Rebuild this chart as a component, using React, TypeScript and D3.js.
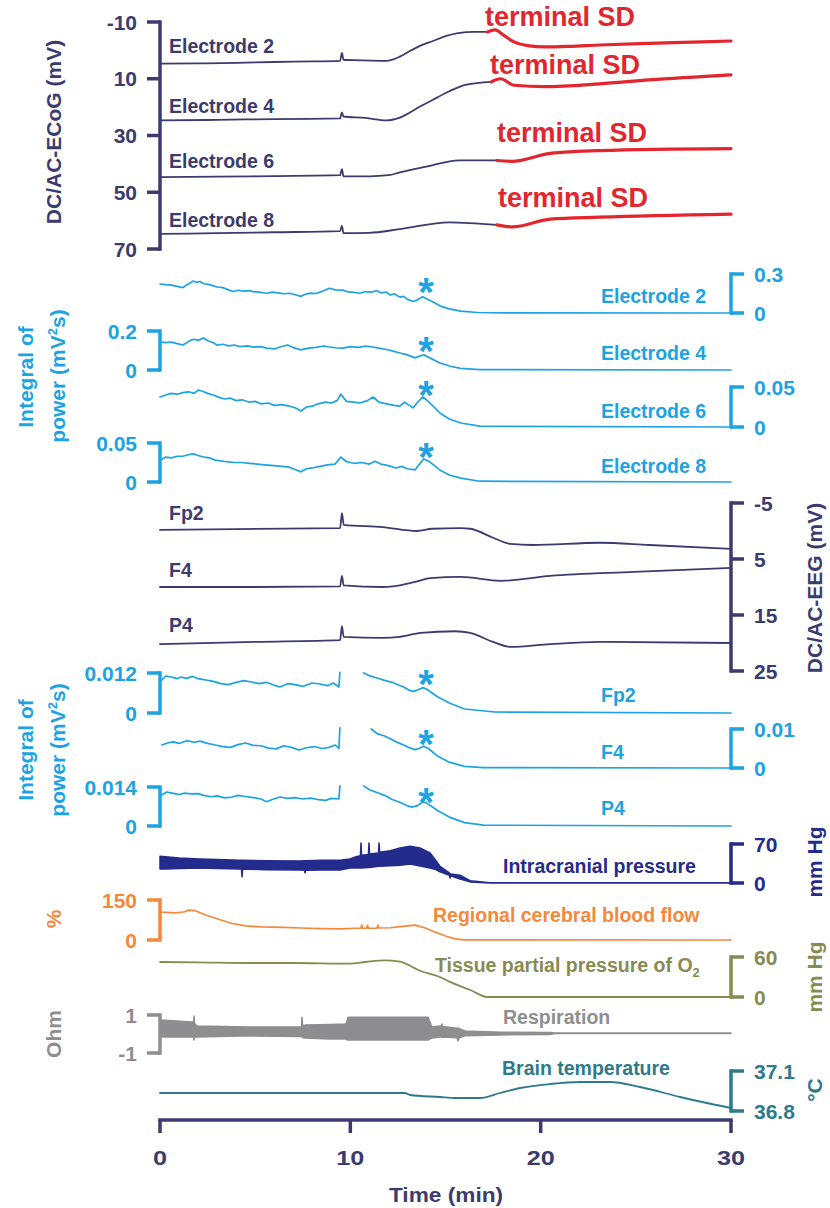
import React from "react";
import * as d3 from "d3";

type P = [number, number];
const FONT = "'Liberation Sans', Arial, Helvetica, sans-serif";

// ---------- colours ----------
const NAVY = "#3c3b6e";
const RED = "#e3262d";
const BLUE = "#1ca3e3";
const ICPBLUE = "#232b8c";
const ORANGE = "#f5883a";
const OLIVE = "#878b50";
const GREY = "#8e8e91";
const TEAL = "#2d7a8c";

// ---------- tick labels ----------
const timeTicks = [0, 10, 20, 30];
const ecogTicks = [-10, 10, 30, 50, 70];
const eegTicks = [-5, 5, 15, 25];
const e2pTicks = [0, 0.3];
const e4pTicks = [0, 0.2];
const e6pTicks = [0, 0.05];
const e8pTicks = [0, 0.05];
const fp2pTicks = [0, 0.012];
const f4pTicks = [0, 0.01];
const p4pTicks = [0, 0.014];
const icpTicks = [0, 70];
const cbfTicks = [0, 150];
const po2Ticks = [0, 60];
const respTicks = [-1, 1];
const tempTicks = [36.8, 37.1];

// ---------- DC/AC-ECoG (mV), [min, mV] ----------
const ecogE2: P[] = [[0, 4.7], [2, 4.6], [4, 4.4], [6, 4.1], [8, 3.9], [9.46, 3.7], [9.56, 0.9], [9.64, 3.3], [10.5, 3.5], [11.9, 3.7], [12.6, 2.2], [13.1, 0.3], [13.66, -1.6], [14.34, -3.3], [15.0, -5.0], [15.66, -6.1], [16.5, -6.5], [17.2, -6.5]];
const ecogE2SD: P[] = [[17.2, -6.5], [17.6, -7.2], [18.1, -5.1], [18.6, -3.0], [19.4, -1.6], [20.2, -1.2], [21.5, -1.4], [23.1, -1.9], [25.7, -2.5], [28, -2.9], [30, -3.3]];
const ecogE4: P[] = [[0, 24.7], [3, 24.5], [6, 24.2], [9.46, 24.0], [9.56, 21.9], [9.64, 23.3], [10.8, 23.8], [11.9, 24.7], [12.6, 23.7], [13.66, 19.8], [14.34, 17.4], [15.2, 14.4], [16.1, 12.1], [17.4, 11.1]];
const ecogE4SD: P[] = [[17.4, 11.1], [17.9, 10.0], [18.6, 12.3], [20.2, 12.8], [23.1, 11.8], [25.7, 10.4], [30, 8.6]];
const ecogE6: P[] = [[0, 44.7], [3, 44.5], [6, 44.3], [9.46, 44.0], [9.56, 41.9], [9.64, 44.4], [11, 44.4], [12, 44.0], [12.6, 43.0], [14.3, 40.5], [15.7, 38.8], [17.7, 38.8]];
const ecogE6SD: P[] = [[17.7, 38.8], [18.5, 39.1], [20.5, 36.3], [23.1, 35.3], [30, 34.6]];
const ecogE8: P[] = [[0, 64.7], [3, 64.4], [6, 64.1], [9.46, 63.7], [9.56, 61.9], [9.64, 64.4], [11, 64.3], [12.6, 63.0], [15.2, 60.6], [17.7, 61.5]];
const ecogE8SD: P[] = [[17.7, 61.5], [18.5, 62.2], [20.5, 59.5], [23.1, 58.8], [30, 57.7]];

// ---------- Integral of power, ECoG (mV²s) ----------
const e2Pow: P[] = [[0, 0.223], [0.3, 0.218], [0.6, 0.214], [0.9, 0.205], [1.2, 0.195], [1.4, 0.215], [1.6, 0.232], [1.75, 0.246], [1.9, 0.236], [2.1, 0.242], [2.3, 0.225], [2.6, 0.218], [3.0, 0.2], [3.3, 0.195], [3.6, 0.178], [3.85, 0.165], [4.1, 0.175], [4.4, 0.168], [4.7, 0.172], [4.9, 0.165], [5.2, 0.16], [5.6, 0.152], [5.9, 0.16], [6.2, 0.155], [6.5, 0.148], [6.8, 0.152], [7.1, 0.14], [7.4, 0.128], [7.6, 0.142], [7.9, 0.153], [8.2, 0.15], [8.5, 0.165], [8.9, 0.19], [9.2, 0.178], [9.6, 0.176], [9.9, 0.162], [10.2, 0.158], [10.5, 0.152], [10.8, 0.165], [11.1, 0.16], [11.4, 0.172], [11.6, 0.155], [11.9, 0.16], [12.1, 0.138], [12.3, 0.148], [12.6, 0.122], [12.8, 0.128], [13.0, 0.105], [13.3, 0.088], [13.5, 0.1], [13.8, 0.125], [14.0, 0.11], [14.4, 0.08], [14.7, 0.055], [15.2, 0.032], [15.8, 0.014], [16.7, 0.004], [18, 0.001], [30, 0]];
const e4Pow: P[] = [[0, 0.144], [0.3, 0.14], [0.6, 0.143], [0.9, 0.135], [1.2, 0.128], [1.4, 0.14], [1.6, 0.152], [1.8, 0.158], [2.0, 0.152], [2.3, 0.164], [2.5, 0.15], [2.8, 0.14], [3.0, 0.128], [3.3, 0.132], [3.6, 0.124], [3.9, 0.128], [4.2, 0.12], [4.6, 0.124], [4.9, 0.117], [5.3, 0.12], [5.6, 0.112], [6.0, 0.108], [6.3, 0.118], [6.7, 0.128], [7.0, 0.115], [7.4, 0.103], [7.8, 0.112], [8.2, 0.116], [8.6, 0.123], [8.9, 0.118], [9.2, 0.114], [9.6, 0.112], [10.0, 0.12], [10.4, 0.116], [10.8, 0.122], [11.2, 0.118], [11.5, 0.112], [11.9, 0.105], [12.2, 0.098], [12.6, 0.087], [12.9, 0.08], [13.2, 0.07], [13.4, 0.062], [13.6, 0.07], [13.85, 0.078], [14.1, 0.066], [14.7, 0.036], [15.3, 0.018], [15.8, 0.008], [16.8, 0.002], [30, 0]];
const e6Pow: P[] = [[0, 0.0375], [0.3, 0.04], [0.6, 0.042], [0.9, 0.041], [1.2, 0.043], [1.5, 0.044], [1.8, 0.042], [2.0, 0.046], [2.2, 0.045], [2.5, 0.042], [2.8, 0.04], [3.1, 0.037], [3.4, 0.035], [3.7, 0.036], [4.0, 0.033], [4.3, 0.034], [4.7, 0.031], [5.0, 0.032], [5.3, 0.029], [5.7, 0.03], [6.0, 0.027], [6.4, 0.028], [6.8, 0.026], [7.1, 0.024], [7.4, 0.02], [7.7, 0.025], [8.0, 0.026], [8.3, 0.029], [8.7, 0.031], [9.0, 0.03], [9.3, 0.033], [9.5, 0.041], [9.8, 0.032], [10.2, 0.031], [10.5, 0.03], [10.9, 0.033], [11.2, 0.0375], [11.5, 0.031], [11.9, 0.029], [12.3, 0.027], [12.6, 0.026], [12.85, 0.031], [13.1, 0.027], [13.3, 0.024], [13.5, 0.03], [13.8, 0.0375], [14.0, 0.034], [14.4, 0.025], [14.7, 0.0175], [15.2, 0.01], [15.8, 0.005], [16.8, 0.001], [30, 0]];
const e8Pow: P[] = [[0, 0.028], [0.3, 0.032], [0.6, 0.031], [0.9, 0.033], [1.2, 0.033], [1.5, 0.035], [1.75, 0.036], [2.0, 0.034], [2.3, 0.032], [2.6, 0.031], [2.9, 0.028], [3.2, 0.027], [3.5, 0.026], [3.9, 0.025], [4.3, 0.025], [4.7, 0.024], [5.1, 0.023], [5.5, 0.022], [6.0, 0.021], [6.4, 0.02], [6.8, 0.019], [7.2, 0.015], [7.4, 0.013], [7.7, 0.017], [8.0, 0.018], [8.4, 0.02], [8.8, 0.022], [9.2, 0.023], [9.5, 0.032], [9.8, 0.026], [10.2, 0.024], [10.6, 0.025], [11.0, 0.023], [11.3, 0.0265], [11.6, 0.023], [12.0, 0.021], [12.4, 0.018], [12.7, 0.02], [13.0, 0.017], [13.4, 0.0155], [13.6, 0.022], [13.85, 0.0295], [14.1, 0.027], [14.7, 0.0155], [15.2, 0.009], [15.8, 0.005], [16.8, 0.001], [30, 0]];

// ---------- DC/AC-EEG (mV) ----------
const eegFp2: P[] = [[0, -0.2], [4, -0.35], [9.46, -0.5], [9.56, -3.2], [9.65, -1.1], [11.7, -0.7], [13.5, 0.0], [14.3, -0.4], [15.8, -0.5], [16.3, -0.4], [17.5, 1.2], [18.4, 2.3], [19.6, 2.5], [23.1, 2.1], [25.7, 2.5], [30, 3.2]];
const eegF4: P[] = [[0, 10.0], [5, 10.0], [9.46, 9.9], [9.56, 8.0], [9.65, 9.7], [11.7, 10.0], [12.6, 9.7], [13.5, 9.0], [14.2, 8.4], [15.8, 8.2], [17.9, 8.9], [20.5, 8.0], [24.9, 7.3], [30, 6.6]];
const eegP4: P[] = [[0, 20.2], [5, 19.8], [9.46, 19.5], [9.56, 17.0], [9.65, 18.9], [11.7, 19.1], [12.6, 18.9], [13.7, 18.2], [15.5, 17.9], [16.3, 18.2], [17.5, 19.8], [18.4, 20.7], [20.5, 20.2], [23.1, 19.8], [30, 20.0]];

// ---------- Integral of power, EEG (mV²s); two segments each ----------
const fp2PowA: P[] = [[0, 0.0093], [0.3, 0.0111], [0.6, 0.0108], [0.9, 0.0103], [1.1, 0.0108], [1.4, 0.0104], [1.7, 0.011], [2.0, 0.0103], [2.4, 0.0099], [2.8, 0.0095], [3.2, 0.0088], [3.6, 0.0085], [4.0, 0.0092], [4.4, 0.0097], [4.8, 0.0093], [5.2, 0.0088], [5.6, 0.0092], [6.0, 0.0083], [6.3, 0.0078], [6.7, 0.0088], [7.1, 0.0085], [7.5, 0.008], [8.0, 0.009], [8.4, 0.0087], [8.8, 0.0082], [9.1, 0.009], [9.4, 0.0078], [9.45, 0.0122]];
const fp2PowB: P[] = [[10.7, 0.012], [11.0, 0.0112], [11.4, 0.0105], [11.8, 0.0098], [12.2, 0.0092], [12.5, 0.0085], [12.8, 0.0078], [13.1, 0.0068], [13.3, 0.0065], [13.5, 0.0068], [13.8, 0.0076], [14.0, 0.0072], [14.6, 0.0048], [15.2, 0.003], [16.0, 0.0012], [17.6, 0.0003], [30, 0]];
const f4PowA: P[] = [[0.1, 0.0059], [0.4, 0.0064], [0.7, 0.0067], [1.0, 0.0063], [1.4, 0.007], [1.8, 0.0066], [2.1, 0.0069], [2.5, 0.0063], [2.9, 0.0059], [3.3, 0.0055], [3.7, 0.0053], [4.1, 0.006], [4.5, 0.0064], [4.9, 0.0058], [5.3, 0.0057], [5.7, 0.0051], [6.1, 0.0049], [6.5, 0.0057], [6.9, 0.0053], [7.3, 0.0046], [7.7, 0.0052], [8.1, 0.0055], [8.5, 0.005], [8.9, 0.0053], [9.2, 0.0059], [9.4, 0.005], [9.45, 0.0103]];
const f4PowB: P[] = [[11.1, 0.01], [11.4, 0.0088], [11.8, 0.0082], [12.1, 0.0075], [12.5, 0.0065], [12.8, 0.0059], [13.1, 0.0052], [13.4, 0.0047], [13.6, 0.005], [13.85, 0.0056], [14.1, 0.005], [14.6, 0.003], [15.2, 0.0015], [16.0, 0.0004], [17.0, 0.0001], [30, 0]];
const p4PowA: P[] = [[0.1, 0.0111], [0.35, 0.0122], [0.7, 0.0117], [1.0, 0.0113], [1.3, 0.0118], [1.6, 0.0115], [2.0, 0.0116], [2.3, 0.011], [2.7, 0.0105], [3.0, 0.0108], [3.4, 0.0101], [3.8, 0.0104], [4.1, 0.011], [4.5, 0.0106], [4.9, 0.0102], [5.3, 0.0097], [5.6, 0.0087], [5.9, 0.0095], [6.3, 0.0104], [6.7, 0.0099], [7.1, 0.0102], [7.5, 0.0097], [7.9, 0.01], [8.3, 0.0095], [8.7, 0.0092], [9.0, 0.0099], [9.4, 0.0097], [9.45, 0.0144]];
const p4PowB: P[] = [[10.7, 0.0144], [11.0, 0.013], [11.4, 0.012], [11.8, 0.011], [12.2, 0.0095], [12.6, 0.0085], [12.9, 0.0075], [13.2, 0.0068], [13.5, 0.0072], [13.8, 0.0086], [14.0, 0.0083], [14.6, 0.0055], [15.2, 0.0032], [16.0, 0.0012], [17.0, 0.0003], [30, 0]];

// ---------- Intracranial pressure (mm Hg) envelope ----------
const icpT = [0, 0.3, 1.0, 2.1, 3.0, 4.2, 4.28, 4.31, 4.34, 5.5, 7.36, 7.59, 7.62, 7.65, 8.5, 9.46, 9.98, 10.3, 10.53, 10.56, 10.59, 10.95, 10.98, 11.01, 11.48, 11.51, 11.54, 12.1, 12.61, 13.14, 13.66, 14.19, 14.5, 14.71, 15.2, 15.24, 15.28, 15.76, 16.29, 17.34, 30];
const icpHigh = [48, 47, 45, 43, 42, 41, 41, 41, 41, 40, 39.5, 40, 40, 40, 41, 41, 43, 47, 49, 72, 50, 51, 72, 52, 54, 72, 55, 58, 63, 66, 63, 54, 40, 30, 18, 16, 16, 14, 4, 0.5, 0.5];
const icpLow = [25, 25, 26, 27, 26, 25, 25, 11, 25, 24, 23.5, 23, 18, 23, 23.5, 23.3, 27, 27, 27, 27, 27, 28, 28, 28, 30, 30, 30, 31, 32, 34, 30.5, 27, 24, 20, 14, 9, 13, 7, 2, 0, 0];

// ---------- Regional cerebral blood flow (%) ----------
const cbf: P[] = [[0, 105], [0.8, 102], [1.3, 106], [1.5, 112], [1.85, 110], [2.4, 94], [3.15, 76], [3.8, 62], [4.5, 53], [5.3, 49], [6.5, 47], [7.4, 45], [8.5, 43], [9.46, 42], [10.3, 44], [10.55, 44], [10.6, 56], [10.65, 44], [10.85, 44], [10.9, 55], [10.95, 44], [11.4, 44], [11.45, 56], [11.5, 45], [12.1, 46], [12.6, 50], [13.4, 56], [13.9, 46], [14.45, 30], [15.0, 15], [15.5, 4], [16.0, 0.5], [30, 0]];

// ---------- Tissue pO2 (mm Hg) ----------
const po2: P[] = [[0, 52.5], [2, 52], [4.7, 51], [7, 51], [10, 50], [10.8, 52.5], [11.8, 55], [12.6, 53], [13.7, 39], [14.7, 30], [15.2, 23], [16.3, 10.5], [17.2, 0], [30, 0]];

// ---------- Respiration (Ohm) envelope ----------
const respT = [0, 1.05, 1.68, 1.76, 1.79, 1.82, 1.94, 4.73, 7.36, 7.43, 7.46, 7.5, 7.62, 8.93, 9.72, 9.8, 9.88, 14.08, 14.2, 14.29, 14.71, 14.79, 14.82, 14.85, 15.6, 15.66, 15.72, 16.03, 17.86, 20.49, 20.75, 30];
const respHigh = [0.74, 0.68, 0.63, 0.63, 0.95, 0.55, 0.42, 0.37, 0.37, 0.37, 0.89, 0.45, 0.47, 0.5, 0.53, 0.6, 0.89, 0.89, 0.6, 0.37, 0.42, 0.42, 0.53, 0.4, 0.3, 0.32, 0.28, 0.16, 0.1, 0.08, 0.05, 0.05];
const respLow = [-0.16, -0.16, -0.16, -0.16, -0.32, -0.16, -0.16, -0.1, -0.13, -0.13, -0.15, -0.2, -0.21, -0.26, -0.26, -0.3, -0.32, -0.32, -0.25, -0.21, -0.16, -0.16, -0.18, -0.16, -0.2, -0.37, -0.2, -0.1, -0.05, -0.03, 0.02, 0.02];

// ---------- Brain temperature (°C) ----------
const temp: P[] = [[0, 36.935], [5, 36.935], [12.87, 36.935], [13.14, 36.92], [14.71, 36.905], [15.5, 36.8975], [16.81, 36.8975], [17.86, 36.935], [18.92, 36.9725], [20.49, 37.0025], [22.07, 37.0175], [23.65, 37.0175], [25.22, 36.98], [27.32, 36.905], [30, 36.8225]];

type Scale = d3.ScaleLinear<number, number>;

function Bracket({ y, ticks, side, color, ax }: { y: Scale; ticks: number[]; side: "left" | "right"; color: string; ax: number }) {
  const dir = side === "left" ? -1 : 1;
  const lo = y(ticks[0]);
  const hi = y(ticks[ticks.length - 1]);
  return (
    <g>
      <line x1={ax} x2={ax} y1={lo} y2={hi} stroke={color} strokeWidth={3.5} strokeLinecap="square" />
      {ticks.map((t) => (
        <g key={t}>
          <line x1={ax} x2={ax + dir * 13} y1={y(t)} y2={y(t)} stroke={color} strokeWidth={3.5} />
          <text x={ax + dir * 23} y={y(t)} dy="0.36em" textAnchor={side === "left" ? "end" : "start"} fill={color} fontSize={21} fontWeight="bold">
            {String(t)}
          </text>
        </g>
      ))}
    </g>
  );
}

function Label({ x, y, color, children, size = 19.5 }: { x: number; y: number; color: string; children: React.ReactNode; size?: number }) {
  return (
    <text x={x} y={y} fill={color} fontSize={size} fontWeight="bold">
      {children}
    </text>
  );
}

function VTitle({ x, y, color, children, size = 21 }: { x: number; y: number; color: string; children: React.ReactNode; size?: number }) {
  return (
    <text transform={`translate(${x},${y}) rotate(-90)`} textAnchor="middle" dy="0.36em" fill={color} fontSize={size} fontWeight="bold">
      {children}
    </text>
  );
}

export default function App() {
  const W = 830, H = 1208;
  const LX = 160, RX = 731;
  const x = d3.scaleLinear().domain([0, 30]).range([LX, RX]);

  const yEcog = d3.scaleLinear().domain([-10, 70]).range([22, 249]);
  const yE2p = d3.scaleLinear().domain([0, 0.3]).range([313, 274]);
  const yE4p = d3.scaleLinear().domain([0, 0.2]).range([370, 331]);
  const yE6p = d3.scaleLinear().domain([0, 0.05]).range([427, 387]);
  const yE8p = d3.scaleLinear().domain([0, 0.05]).range([482, 443]);
  const yEeg = d3.scaleLinear().domain([-5, 25]).range([503, 671]);
  const yFp2p = d3.scaleLinear().domain([0, 0.012]).range([713, 673]);
  const yF4p = d3.scaleLinear().domain([0, 0.01]).range([768, 729]);
  const yP4p = d3.scaleLinear().domain([0, 0.014]).range([826, 787]);
  const yIcp = d3.scaleLinear().domain([0, 70]).range([883, 844]);
  const yCbf = d3.scaleLinear().domain([0, 150]).range([940, 900]);
  const yPo2 = d3.scaleLinear().domain([0, 60]).range([997, 957]);
  const yResp = d3.scaleLinear().domain([-1, 1]).range([1053, 1015]);
  const yTemp = d3.scaleLinear().domain([36.8, 37.1]).range([1111, 1071]);

  const ln = (data: P[], y: Scale, smooth: boolean) =>
    d3.line<P>().x((d) => x(d[0])).y((d) => y(d[1])).curve(smooth ? d3.curveMonotoneX : d3.curveLinear)(data) ?? "";
  const band = (t: number[], hi: number[], lo: number[], y: Scale) =>
    d3.area<number>().x((d) => x(d)).y0((_, i) => y(lo[i])).y1((_, i) => y(hi[i]))(t) ?? "";

  const trace = (d: P[], y: Scale, color: string, w = 1.8, smooth = false) => (
    <path d={ln(d, y, smooth)} fill="none" stroke={color} strokeWidth={w} strokeLinejoin="round" strokeLinecap="round" />
  );

  const star = (cy: number) => (
    <text x={426} y={cy + 23} textAnchor="middle" fill={BLUE} fontSize={40} fontWeight="bold">*</text>
  );

  const axisY = 1120;

  return (
    <svg width={W} height={H} viewBox={`0 0 ${W} ${H}`} style={{ position: "absolute", left: 0, top: 0, background: "#fff" }} fontFamily={FONT}>
      {/* ===== DC/AC-ECoG ===== */}
      <Bracket y={yEcog} ticks={ecogTicks} side="left" color={NAVY} ax={LX} />
      <VTitle x={53} y={132} color={NAVY}>DC/AC-ECoG (mV)</VTitle>
      <g>{[ecogE2, ecogE4, ecogE6, ecogE8].map((d, i) => <g key={"ec" + i}>{trace(d, yEcog, NAVY, 1.8, true)}</g>)}</g>
      <g>{[ecogE2SD, ecogE4SD, ecogE6SD, ecogE8SD].map((d, i) => <g key={"sd" + i}>{trace(d, yEcog, RED, 3.2, true)}</g>)}</g>
      <Label x={169} y={53} color={NAVY}>Electrode 2</Label>
      <Label x={169} y={113} color={NAVY}>Electrode 4</Label>
      <Label x={169} y={168} color={NAVY}>Electrode 6</Label>
      <Label x={169} y={227} color={NAVY}>Electrode 8</Label>
      <Label x={485} y={26} color={RED} size={27}>terminal SD</Label>
      <Label x={490} y={74} color={RED} size={27}>terminal SD</Label>
      <Label x={497} y={142} color={RED} size={27}>terminal SD</Label>
      <Label x={498} y={207} color={RED} size={27}>terminal SD</Label>

      {/* ===== ECoG power ===== */}
      <Bracket y={yE2p} ticks={e2pTicks} side="right" color={BLUE} ax={RX} />
      <Bracket y={yE4p} ticks={e4pTicks} side="left" color={BLUE} ax={LX} />
      <Bracket y={yE6p} ticks={e6pTicks} side="right" color={BLUE} ax={RX} />
      <Bracket y={yE8p} ticks={e8pTicks} side="left" color={BLUE} ax={LX} />
      {trace(e2Pow, yE2p, BLUE, 1.7)}
      {trace(e4Pow, yE4p, BLUE, 1.7)}
      {trace(e6Pow, yE6p, BLUE, 1.7)}
      {trace(e8Pow, yE8p, BLUE, 1.7)}
      {star(283)}{star(342)}{star(386)}{star(448)}
      <Label x={601} y={303} color={BLUE}>Electrode 2</Label>
      <Label x={601} y={360} color={BLUE}>Electrode 4</Label>
      <Label x={601} y={418} color={BLUE}>Electrode 6</Label>
      <Label x={601} y={473} color={BLUE}>Electrode 8</Label>
      <VTitle x={25} y={377} color={BLUE}>Integral of</VTitle>
      <VTitle x={57} y={376} color={BLUE}>
        power (mV<tspan dy={-8} fontSize={13}>2</tspan><tspan dy={8}>s)</tspan>
      </VTitle>

      {/* ===== DC/AC-EEG ===== */}
      <Bracket y={yEeg} ticks={eegTicks} side="right" color={NAVY} ax={RX} />
      <VTitle x={814} y={588} color={NAVY}>DC/AC-EEG (mV)</VTitle>
      {trace(eegFp2, yEeg, NAVY, 1.8, true)}
      {trace(eegF4, yEeg, NAVY, 1.8, true)}
      {trace(eegP4, yEeg, NAVY, 1.8, true)}
      <Label x={169} y={520} color={NAVY}>Fp2</Label>
      <Label x={169} y={577} color={NAVY}>F4</Label>
      <Label x={169} y={632} color={NAVY}>P4</Label>

      {/* ===== EEG power ===== */}
      <Bracket y={yFp2p} ticks={fp2pTicks} side="left" color={BLUE} ax={LX} />
      <Bracket y={yF4p} ticks={f4pTicks} side="right" color={BLUE} ax={RX} />
      <Bracket y={yP4p} ticks={p4pTicks} side="left" color={BLUE} ax={LX} />
      {trace(fp2PowA, yFp2p, BLUE, 1.7)}{trace(fp2PowB, yFp2p, BLUE, 1.7)}
      {trace(f4PowA, yF4p, BLUE, 1.7)}{trace(f4PowB, yF4p, BLUE, 1.7)}
      {trace(p4PowA, yP4p, BLUE, 1.7)}{trace(p4PowB, yP4p, BLUE, 1.7)}
      {star(675)}{star(735)}{star(793)}
      <Label x={601} y={702} color={BLUE}>Fp2</Label>
      <Label x={601} y={759} color={BLUE}>F4</Label>
      <Label x={601} y={815} color={BLUE}>P4</Label>
      <VTitle x={25} y={750} color={BLUE}>Integral of</VTitle>
      <VTitle x={57} y={750} color={BLUE}>
        power (mV<tspan dy={-8} fontSize={13}>2</tspan><tspan dy={8}>s)</tspan>
      </VTitle>

      {/* ===== ICP ===== */}
      <path d={band(icpT, icpHigh, icpLow, yIcp)} fill={ICPBLUE} stroke={ICPBLUE} strokeWidth={1.5} strokeLinejoin="round" />
      <Bracket y={yIcp} ticks={icpTicks} side="right" color={ICPBLUE} ax={RX} />
      <Label x={503} y={873} color={ICPBLUE}>Intracranial pressure</Label>
      <VTitle x={814} y={862} color={ICPBLUE}>mm Hg</VTitle>

      {/* ===== CBF ===== */}
      <Bracket y={yCbf} ticks={cbfTicks} side="left" color={ORANGE} ax={LX} />
      {trace(cbf, yCbf, ORANGE, 1.7)}
      <Label x={433} y={922} color={ORANGE}>Regional cerebral blood flow</Label>
      <VTitle x={53} y={919} color={ORANGE}>%</VTitle>

      {/* ===== pO2 ===== */}
      <Bracket y={yPo2} ticks={po2Ticks} side="right" color={OLIVE} ax={RX} />
      {trace(po2, yPo2, OLIVE, 1.8, true)}
      <Label x={435} y={972} color={OLIVE}>
        Tissue partial pressure of O<tspan dy={5} fontSize={13}>2</tspan>
      </Label>
      <VTitle x={814} y={977} color={OLIVE}>mm Hg</VTitle>

      {/* ===== Respiration ===== */}
      <Bracket y={yResp} ticks={respTicks} side="left" color={GREY} ax={LX} />
      <path d={band(respT, respHigh, respLow, yResp)} fill={GREY} stroke={GREY} strokeWidth={1.4} strokeLinejoin="round" />
      <Label x={503} y={1024} color={GREY}>Respiration</Label>
      <VTitle x={53} y={1034} color={GREY}>Ohm</VTitle>

      {/* ===== Temperature ===== */}
      <Bracket y={yTemp} ticks={tempTicks} side="right" color={TEAL} ax={RX} />
      {trace(temp, yTemp, TEAL, 1.8, true)}
      <Label x={502} y={1075} color={TEAL}>Brain temperature</Label>
      <VTitle x={814} y={1090} color={TEAL}>°C</VTitle>

      {/* ===== Time axis ===== */}
      <line x1={LX} x2={RX} y1={axisY} y2={axisY} stroke={NAVY} strokeWidth={3.5} strokeLinecap="square" />
      {timeTicks.map((t) => (
        <g key={t}>
          <line x1={x(t)} x2={x(t)} y1={axisY} y2={axisY + 13} stroke={NAVY} strokeWidth={3.5} />
          <text transform={`translate(${x(t)},${axisY + 45}) scale(1.2,1)`} textAnchor="middle" fill={NAVY} fontSize={21} fontWeight="bold">
            {String(t)}
          </text>
        </g>
      ))}
      <text transform={`translate(446,1202) scale(1.08,1)`} textAnchor="middle" fill={NAVY} fontSize={21} fontWeight="bold">Time (min)</text>
    </svg>
  );
}
